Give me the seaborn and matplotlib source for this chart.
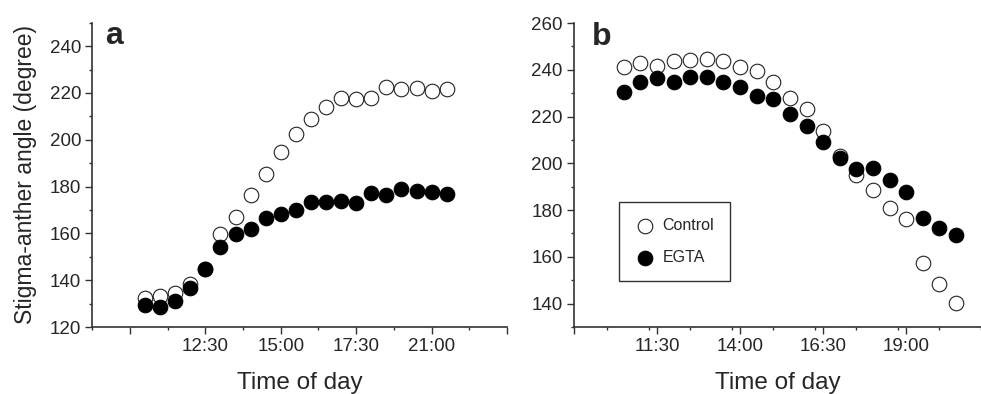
import matplotlib
matplotlib.use('Agg')
import matplotlib.pyplot as plt
import seaborn as sns
import pandas as pd
from matplotlib.ticker import FixedLocator, MultipleLocator

# sampling times (hours of day), same for both panels
hours = [10.5, 11.0, 11.5, 12.0, 12.5, 13.0, 13.5, 14.0, 14.5, 15.0, 15.5,
         16.0, 16.5, 17.0, 17.5, 18.0, 18.5, 19.0, 19.5, 20.0, 20.5]

# panel a
a_control = [132.6, 133.2, 134.4, 138.2, 144.6, 159.6, 167.0, 176.2, 185.2, 194.7, 202.6,
             208.7, 214.1, 218.0, 217.5, 218.0, 222.5, 221.9, 222.2, 220.8, 221.9]
a_egta = [129.4, 128.7, 131.1, 136.8, 144.6, 154.2, 159.6, 162.0, 166.4, 168.4, 169.8,
          173.4, 173.4, 173.8, 173.1, 177.1, 176.2, 178.8, 178.1, 177.6, 176.7]

# panel b
b_control = [241.2, 242.9, 241.8, 243.6, 244.3, 244.7, 243.6, 241.2, 239.6, 234.6, 228.0,
             223.3, 213.7, 203.0, 195.2, 188.8, 181.0, 176.0, 157.5, 148.2, 140.1]
b_egta = [230.4, 234.6, 236.5, 234.6, 236.9, 236.9, 234.6, 232.7, 228.6, 227.5, 221.3,
          216.1, 209.0, 202.3, 197.6, 198.1, 192.8, 187.8, 176.7, 172.2, 169.2]

a_xticks = [10.0, 12.5, 15.0, 17.5, 20.0, 22.5]
a_xlabels = ['', '12:30', '15:00', '17:30', '21:00', '']
b_xticks = [9.0, 11.5, 14.0, 16.5, 19.0, 21.5]
b_xlabels = ['', '11:30', '14:00', '16:30', '19:00', '']

sns.set_style('ticks')
plt.rcParams['font.family'] = ['Liberation Sans', 'DejaVu Sans']

fig = plt.figure(figsize=(9.81, 3.94), dpi=100)
ax_a = fig.add_axes([0.0941, 0.170, 0.4227, 0.7723])
ax_b = fig.add_axes([0.5851, 0.170, 0.4149, 0.7716])


def draw_panel(ax, control, egta, xticks, xlabels, xlim, ylim, letter, lx):
    df_c = pd.DataFrame({'hour': hours, 'angle': control})
    df_e = pd.DataFrame({'hour': hours, 'angle': egta})
    sns.scatterplot(data=df_c, x='hour', y='angle', ax=ax, s=110, marker='o',
                    facecolor='white', edgecolor='#222222', linewidth=0.8,
                    label='Control', zorder=3)
    sns.scatterplot(data=df_e, x='hour', y='angle', ax=ax, s=110, marker='o',
                    color='black', edgecolor='black', linewidth=0.8,
                    label='EGTA', zorder=4)
    ax.set_xlim(*xlim)
    ax.set_ylim(*ylim)
    ax.xaxis.set_major_locator(FixedLocator(xticks))
    ax.set_xticklabels(xlabels)
    ax.xaxis.set_minor_locator(MultipleLocator(1.25))
    ax.yaxis.set_major_locator(MultipleLocator(20))
    ax.yaxis.set_minor_locator(MultipleLocator(10))
    ax.tick_params(which='major', length=5, width=1.0, color='#333333',
                   labelsize=13.5, pad=3)
    ax.tick_params(which='minor', length=2.5, width=1.0, color='#333333')
    for side in ['top', 'right']:
        ax.spines[side].set_visible(False)
    for side in ['left', 'bottom']:
        ax.spines[side].set_color('#333333')
        ax.spines[side].set_linewidth(1.2)
    ax.set_xlabel('Time of day', fontsize=17.5, labelpad=12)
    ax.text(lx, 0.929, letter, transform=ax.transAxes, fontsize=23,
            fontweight='bold', va='baseline', ha='left')
    ax.get_legend().remove()


draw_panel(ax_a, a_control, a_egta, a_xticks, a_xlabels, (8.75, 22.5), (120, 250), 'a', 0.031)
draw_panel(ax_b, b_control, b_egta, b_xticks, b_xlabels, (9.0, 21.25), (130, 260), 'b', 0.043)

ax_a.set_ylabel('Stigma-anther angle (degree)', fontsize=16.5, labelpad=9)
ax_b.set_ylabel('')

handles, labels = ax_b.get_legend_handles_labels()
leg = ax_b.legend(handles, labels, loc='lower left', bbox_to_anchor=(0.111, 0.151),
                  borderaxespad=0, frameon=True, fancybox=False, fontsize=11.5,
                  handletextpad=0.5, borderpad=1.0, labelspacing=1.05,
                  handlelength=1.2)
leg.get_frame().set_edgecolor('black')
leg.get_frame().set_linewidth(1.0)

fig.savefig('out.png', dpi=100)
